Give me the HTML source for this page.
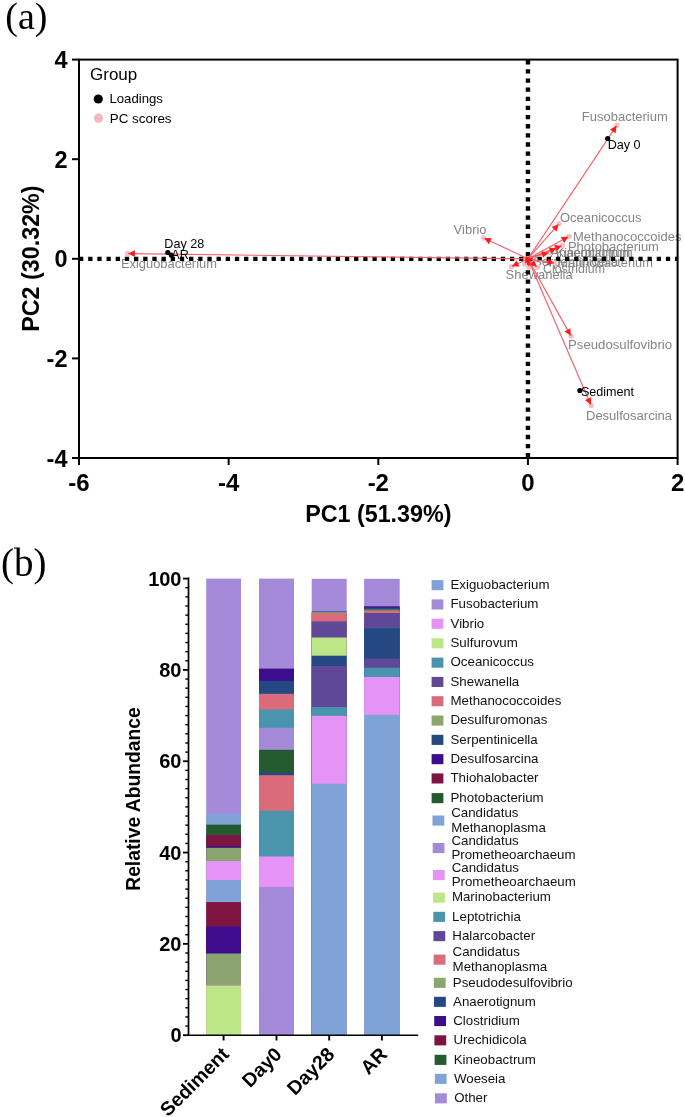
<!DOCTYPE html><html><head><meta charset="utf-8"><style>html,body{margin:0;padding:0;background:#fff;overflow:hidden}svg{display:block;will-change:transform}text{font-family:"Liberation Sans", sans-serif}</style></head><body>
<svg width="685" height="1117" viewBox="0 0 685 1117">
<rect width="685" height="1117" fill="#fff"/>
<text x="5.3" y="29.3" style="font-family:'Liberation Serif', serif" font-size="38" fill="#000">(a)</text>
<line x1="72" y1="59.60" x2="79.0" y2="59.60" stroke="#000" stroke-width="2"/>
<text x="67.5" y="68.10" text-anchor="end" font-weight="bold" font-size="23.5">4</text>
<line x1="72" y1="159.20" x2="79.0" y2="159.20" stroke="#000" stroke-width="2"/>
<text x="67.5" y="167.70" text-anchor="end" font-weight="bold" font-size="23.5">2</text>
<line x1="72" y1="258.80" x2="79.0" y2="258.80" stroke="#000" stroke-width="2"/>
<text x="67.5" y="267.30" text-anchor="end" font-weight="bold" font-size="23.5">0</text>
<line x1="72" y1="358.40" x2="79.0" y2="358.40" stroke="#000" stroke-width="2"/>
<text x="67.5" y="366.90" text-anchor="end" font-weight="bold" font-size="23.5">-2</text>
<line x1="72" y1="458.00" x2="79.0" y2="458.00" stroke="#000" stroke-width="2"/>
<text x="67.5" y="466.50" text-anchor="end" font-weight="bold" font-size="23.5">-4</text>
<line x1="79.00" y1="458.0" x2="79.00" y2="465" stroke="#000" stroke-width="2"/>
<text x="79.00" y="490.5" text-anchor="middle" font-weight="bold" font-size="24">-6</text>
<line x1="228.65" y1="458.0" x2="228.65" y2="465" stroke="#000" stroke-width="2"/>
<text x="228.65" y="490.5" text-anchor="middle" font-weight="bold" font-size="24">-4</text>
<line x1="378.30" y1="458.0" x2="378.30" y2="465" stroke="#000" stroke-width="2"/>
<text x="378.30" y="490.5" text-anchor="middle" font-weight="bold" font-size="24">-2</text>
<line x1="527.95" y1="458.0" x2="527.95" y2="465" stroke="#000" stroke-width="2"/>
<text x="527.95" y="490.5" text-anchor="middle" font-weight="bold" font-size="24">0</text>
<line x1="677.60" y1="458.0" x2="677.60" y2="465" stroke="#000" stroke-width="2"/>
<text x="677.60" y="490.5" text-anchor="middle" font-weight="bold" font-size="24">2</text>
<text x="378.3" y="521.5" text-anchor="middle" font-weight="bold" font-size="23.3">PC1 (51.39%)</text>
<text transform="translate(38.5,258.6) rotate(-90)" text-anchor="middle" font-weight="bold" font-size="23.3">PC2 (30.32%)</text>
<text x="90" y="79.6" font-size="17">Group</text>
<circle cx="98.3" cy="99" r="4.6" fill="#000"/>
<text x="109.4" y="103" font-size="13.2">Loadings</text>
<circle cx="98.5" cy="118.2" r="4.6" fill="#f2b6bf"/>
<text x="109.8" y="122.7" font-size="13.4">PC scores</text>
<text x="581.8" y="120.9" font-size="13.0" fill="#858585">Fusobacterium</text>
<text x="559.9" y="221.9" font-size="13.0" fill="#858585">Oceanicoccus</text>
<text x="573" y="240.9" font-size="13.0" fill="#858585">Methanococcoides</text>
<text x="453.6" y="233.6" font-size="13.0" fill="#858585">Vibrio</text>
<text x="567.9" y="251.0" font-size="13.0" fill="#858585">Photobacterium</text>
<text x="550.5" y="257.0" font-size="12.8" fill="#858585">Anaerotignum</text>
<text x="556" y="256.5" font-size="12.4" fill="#858585">Kineobactrum</text>
<text x="533" y="266.3" font-size="13.0" fill="#858585">Serpentinicella</text>
<text x="557.5" y="266.6" font-size="12.8" fill="#858585">Marinobacterium</text>
<text x="543.0" y="273.4" font-size="12.4" fill="#858585">Clostridium</text>
<text x="505.5" y="279.2" font-size="13.0" fill="#858585">Shewanella</text>
<text x="120.9" y="267.9" font-size="12.9" fill="#858585">Exiguobacterium</text>
<text x="568.0" y="349" font-size="13.2" fill="#858585">Pseudosulfovibrio</text>
<text x="586" y="419.5" font-size="13.0" fill="#858585">Desulfosarcina</text>
<line x1="79.0" y1="258.80" x2="677.6" y2="258.80" stroke="#000" stroke-width="4.3" stroke-dasharray="4.3 4.87"/>
<line x1="527.95" y1="59.6" x2="527.95" y2="458.0" stroke="#000" stroke-width="4.4" stroke-dasharray="4.3 4.84" stroke-dashoffset="-0.5"/>
<rect x="79.0" y="59.6" width="598.6" height="398.4" fill="none" stroke="#000" stroke-width="2"/>
<circle cx="127.5" cy="253.6" r="2.7" fill="#f7c0c7"/>
<circle cx="483.6" cy="237.9" r="2.7" fill="#f7c0c7"/>
<circle cx="616.9" cy="125.2" r="2.7" fill="#f7c0c7"/>
<circle cx="559.1" cy="223.6" r="2.7" fill="#f7c0c7"/>
<circle cx="569.0" cy="236.4" r="2.7" fill="#f7c0c7"/>
<circle cx="562.3" cy="245.5" r="2.7" fill="#f7c0c7"/>
<circle cx="557" cy="248.1" r="2.7" fill="#f7c0c7"/>
<circle cx="549.2" cy="252.5" r="2.7" fill="#f7c0c7"/>
<circle cx="511.4" cy="266.7" r="2.7" fill="#f7c0c7"/>
<circle cx="537.3" cy="267.4" r="2.7" fill="#f7c0c7"/>
<circle cx="524.6" cy="263.9" r="2.7" fill="#f7c0c7"/>
<circle cx="529.0" cy="267.0" r="2.7" fill="#f7c0c7"/>
<circle cx="554.9" cy="263" r="2.7" fill="#f7c0c7"/>
<circle cx="571.1" cy="336.3" r="2.7" fill="#f7c0c7"/>
<circle cx="591.1" cy="405.4" r="2.7" fill="#f7c0c7"/>
<line x1="527.95" y1="258.80" x2="128.30" y2="253.61" stroke="#f4606a" stroke-width="1.15"/>
<line x1="527.95" y1="258.80" x2="484.32" y2="238.24" stroke="#f4606a" stroke-width="1.15"/>
<line x1="527.95" y1="258.80" x2="616.46" y2="125.87" stroke="#f4606a" stroke-width="1.15"/>
<line x1="527.95" y1="258.80" x2="558.57" y2="224.20" stroke="#f4606a" stroke-width="1.15"/>
<line x1="527.95" y1="258.80" x2="568.30" y2="236.78" stroke="#f4606a" stroke-width="1.15"/>
<line x1="527.95" y1="258.80" x2="561.55" y2="245.79" stroke="#f4606a" stroke-width="1.15"/>
<line x1="527.95" y1="258.80" x2="556.25" y2="248.38" stroke="#f4606a" stroke-width="1.15"/>
<line x1="527.95" y1="258.80" x2="548.43" y2="252.73" stroke="#f4606a" stroke-width="1.15"/>
<line x1="527.95" y1="258.80" x2="512.12" y2="266.36" stroke="#f4606a" stroke-width="1.15"/>
<line x1="527.95" y1="258.80" x2="536.71" y2="266.86" stroke="#f4606a" stroke-width="1.15"/>
<line x1="527.95" y1="258.80" x2="525.04" y2="263.23" stroke="#f4606a" stroke-width="1.15"/>
<line x1="527.95" y1="258.80" x2="528.90" y2="266.21" stroke="#f4606a" stroke-width="1.15"/>
<line x1="527.95" y1="258.80" x2="554.11" y2="262.88" stroke="#f4606a" stroke-width="1.15"/>
<line x1="527.95" y1="258.80" x2="570.71" y2="335.60" stroke="#f4606a" stroke-width="1.15"/>
<line x1="527.95" y1="258.80" x2="590.78" y2="404.67" stroke="#f4606a" stroke-width="1.15"/>
<polygon points="128.30,253.61 134.94,250.30 134.86,257.10" fill="#ff1a1a"/>
<polygon points="484.32,238.24 491.74,237.98 488.84,244.13" fill="#ff1a1a"/>
<polygon points="616.46,125.87 615.63,133.24 609.97,129.48" fill="#ff1a1a"/>
<polygon points="558.57,224.20 556.74,231.39 551.65,226.89" fill="#ff1a1a"/>
<polygon points="568.30,236.78 564.13,242.93 560.88,236.96" fill="#ff1a1a"/>
<polygon points="561.55,245.79 556.63,251.34 554.17,245.00" fill="#ff1a1a"/>
<polygon points="556.25,248.38 551.23,253.85 548.88,247.47" fill="#ff1a1a"/>
<polygon points="548.43,252.73 543.07,257.86 541.14,251.34" fill="#ff1a1a"/>
<polygon points="512.12,266.36 516.61,260.44 519.54,266.58" fill="#ff1a1a"/>
<polygon points="536.71,266.86 529.55,264.89 534.16,259.89" fill="#ff1a1a"/>
<polygon points="525.04,263.23 525.82,255.85 531.50,259.58" fill="#ff1a1a"/>
<polygon points="528.90,266.21 524.69,260.09 531.43,259.23" fill="#ff1a1a"/>
<polygon points="554.11,262.88 547.06,265.22 548.11,258.50" fill="#ff1a1a"/>
<polygon points="570.71,335.60 564.53,331.49 570.47,328.18" fill="#ff1a1a"/>
<polygon points="590.78,404.67 585.05,399.95 591.30,397.26" fill="#ff1a1a"/>
<circle cx="607.7" cy="138.5" r="2.6" fill="#000"/>
<circle cx="167.8" cy="252.5" r="2.6" fill="#000"/>
<circle cx="171.3" cy="255.1" r="2.6" fill="#000"/>
<circle cx="579.9" cy="390.5" r="2.6" fill="#000"/>
<text x="607.7" y="148.7" font-size="12.6" fill="#000">Day 0</text>
<text x="164.3" y="247.8" font-size="12.6" fill="#000">Day 28</text>
<text x="171.3" y="258.6" font-size="12.6" fill="#000">AR</text>
<text x="580.9" y="395.6" font-size="12.6" fill="#000">Sediment</text>
<text x="1.0" y="575.8" style="font-family:'Liberation Serif', serif" font-size="39" fill="#000">(b)</text>
<rect x="206.2" y="578.6" width="34.80" height="456.60" fill="#a48ad9"/>
<rect x="206.2" y="814.2" width="34.80" height="221.00" fill="#7fa3d6"/>
<rect x="206.2" y="824.7" width="34.80" height="210.50" fill="#235a2e"/>
<rect x="206.2" y="835.2" width="34.80" height="200.00" fill="#7d1540"/>
<rect x="206.2" y="846.2" width="34.80" height="189.00" fill="#3c0d8c"/>
<rect x="206.2" y="847.8" width="34.80" height="187.40" fill="#8aa66e"/>
<rect x="206.2" y="861" width="34.80" height="174.20" fill="#e593f7"/>
<rect x="206.2" y="880" width="34.80" height="155.20" fill="#7fa3d6"/>
<rect x="206.2" y="902.1" width="34.80" height="133.10" fill="#7d1540"/>
<rect x="206.2" y="926.4" width="34.80" height="108.80" fill="#3c0d8c"/>
<rect x="206.2" y="953.5" width="34.80" height="81.70" fill="#8aa66e"/>
<rect x="206.2" y="984.5" width="34.80" height="50.70" fill="#b89088"/>
<rect x="206.2" y="985.7" width="34.80" height="49.50" fill="#bde688"/>
<rect x="259.0" y="578.6" width="35.00" height="456.60" fill="#a48ad9"/>
<rect x="259.0" y="668.6" width="35.00" height="366.60" fill="#3c0d8c"/>
<rect x="259.0" y="680.8" width="35.00" height="354.40" fill="#244882"/>
<rect x="259.0" y="693.8" width="35.00" height="341.40" fill="#d96b7a"/>
<rect x="259.0" y="709.5" width="35.00" height="325.70" fill="#4a94ae"/>
<rect x="259.0" y="727.8" width="35.00" height="307.40" fill="#a48ad9"/>
<rect x="259.0" y="749.8" width="35.00" height="285.40" fill="#235a2e"/>
<rect x="259.0" y="772.3" width="35.00" height="262.90" fill="#244882"/>
<rect x="259.0" y="775.2" width="35.00" height="260.00" fill="#d96b7a"/>
<rect x="259.0" y="810.8" width="35.00" height="224.40" fill="#4a94ae"/>
<rect x="259.0" y="856.5" width="35.00" height="178.70" fill="#e593f7"/>
<rect x="259.0" y="886.9" width="35.00" height="148.30" fill="#a48ad9"/>
<rect x="311.7" y="578.8" width="35.00" height="456.40" fill="#a48ad9"/>
<rect x="311.7" y="611.4" width="35.00" height="423.80" fill="#244882"/>
<rect x="311.7" y="612.2" width="35.00" height="423.00" fill="#8aa66e"/>
<rect x="311.7" y="613.2" width="35.00" height="422.00" fill="#d96b7a"/>
<rect x="311.7" y="621.4" width="35.00" height="413.80" fill="#5f4898"/>
<rect x="311.7" y="637.5" width="35.00" height="397.70" fill="#bde688"/>
<rect x="311.7" y="655.7" width="35.00" height="379.50" fill="#244882"/>
<rect x="311.7" y="665.9" width="35.00" height="369.30" fill="#5f4898"/>
<rect x="311.7" y="707.1" width="35.00" height="328.10" fill="#4a94ae"/>
<rect x="311.7" y="715.9" width="35.00" height="319.30" fill="#e593f7"/>
<rect x="311.7" y="783.8" width="35.00" height="251.40" fill="#7fa3d6"/>
<rect x="364.1" y="578.8" width="35.60" height="456.40" fill="#a48ad9"/>
<rect x="364.1" y="606.3" width="35.60" height="428.90" fill="#3c0d8c"/>
<rect x="364.1" y="607.5" width="35.60" height="427.70" fill="#244882"/>
<rect x="364.1" y="608.9" width="35.60" height="426.30" fill="#2f7a68"/>
<rect x="364.1" y="610.3" width="35.60" height="424.90" fill="#d96b7a"/>
<rect x="364.1" y="613" width="35.60" height="422.20" fill="#5f4898"/>
<rect x="364.1" y="627.6" width="35.60" height="407.60" fill="#3f6f8a"/>
<rect x="364.1" y="628.2" width="35.60" height="407.00" fill="#244882"/>
<rect x="364.1" y="658.6" width="35.60" height="376.60" fill="#5f4898"/>
<rect x="364.1" y="667.8" width="35.60" height="367.40" fill="#4a94ae"/>
<rect x="364.1" y="677" width="35.60" height="358.20" fill="#e593f7"/>
<rect x="364.1" y="714.8" width="35.60" height="320.40" fill="#7fa3d6"/>
<line x1="188.5" y1="577.6" x2="188.5" y2="1036" stroke="#000" stroke-width="1.7"/>
<line x1="187.5" y1="1035.3" x2="418.2" y2="1035.3" stroke="#000" stroke-width="1.6"/>
<line x1="183" y1="1035.20" x2="188.5" y2="1035.20" stroke="#000" stroke-width="1.8"/>
<text x="181.5" y="1042.40" text-anchor="end" font-weight="bold" font-size="20">0</text>
<line x1="185.3" y1="1026.07" x2="188.5" y2="1026.07" stroke="#000" stroke-width="1.4"/>
<line x1="185.3" y1="1016.94" x2="188.5" y2="1016.94" stroke="#000" stroke-width="1.4"/>
<line x1="185.3" y1="1007.80" x2="188.5" y2="1007.80" stroke="#000" stroke-width="1.4"/>
<line x1="185.3" y1="998.67" x2="188.5" y2="998.67" stroke="#000" stroke-width="1.4"/>
<line x1="185.3" y1="989.54" x2="188.5" y2="989.54" stroke="#000" stroke-width="1.4"/>
<line x1="185.3" y1="980.41" x2="188.5" y2="980.41" stroke="#000" stroke-width="1.4"/>
<line x1="185.3" y1="971.28" x2="188.5" y2="971.28" stroke="#000" stroke-width="1.4"/>
<line x1="185.3" y1="962.14" x2="188.5" y2="962.14" stroke="#000" stroke-width="1.4"/>
<line x1="185.3" y1="953.01" x2="188.5" y2="953.01" stroke="#000" stroke-width="1.4"/>
<line x1="183" y1="943.88" x2="188.5" y2="943.88" stroke="#000" stroke-width="1.8"/>
<text x="181.5" y="951.08" text-anchor="end" font-weight="bold" font-size="20">20</text>
<line x1="185.3" y1="934.75" x2="188.5" y2="934.75" stroke="#000" stroke-width="1.4"/>
<line x1="185.3" y1="925.62" x2="188.5" y2="925.62" stroke="#000" stroke-width="1.4"/>
<line x1="185.3" y1="916.48" x2="188.5" y2="916.48" stroke="#000" stroke-width="1.4"/>
<line x1="185.3" y1="907.35" x2="188.5" y2="907.35" stroke="#000" stroke-width="1.4"/>
<line x1="185.3" y1="898.22" x2="188.5" y2="898.22" stroke="#000" stroke-width="1.4"/>
<line x1="185.3" y1="889.09" x2="188.5" y2="889.09" stroke="#000" stroke-width="1.4"/>
<line x1="185.3" y1="879.96" x2="188.5" y2="879.96" stroke="#000" stroke-width="1.4"/>
<line x1="185.3" y1="870.82" x2="188.5" y2="870.82" stroke="#000" stroke-width="1.4"/>
<line x1="185.3" y1="861.69" x2="188.5" y2="861.69" stroke="#000" stroke-width="1.4"/>
<line x1="183" y1="852.56" x2="188.5" y2="852.56" stroke="#000" stroke-width="1.8"/>
<text x="181.5" y="859.76" text-anchor="end" font-weight="bold" font-size="20">40</text>
<line x1="185.3" y1="843.43" x2="188.5" y2="843.43" stroke="#000" stroke-width="1.4"/>
<line x1="185.3" y1="834.30" x2="188.5" y2="834.30" stroke="#000" stroke-width="1.4"/>
<line x1="185.3" y1="825.16" x2="188.5" y2="825.16" stroke="#000" stroke-width="1.4"/>
<line x1="185.3" y1="816.03" x2="188.5" y2="816.03" stroke="#000" stroke-width="1.4"/>
<line x1="185.3" y1="806.90" x2="188.5" y2="806.90" stroke="#000" stroke-width="1.4"/>
<line x1="185.3" y1="797.77" x2="188.5" y2="797.77" stroke="#000" stroke-width="1.4"/>
<line x1="185.3" y1="788.64" x2="188.5" y2="788.64" stroke="#000" stroke-width="1.4"/>
<line x1="185.3" y1="779.50" x2="188.5" y2="779.50" stroke="#000" stroke-width="1.4"/>
<line x1="185.3" y1="770.37" x2="188.5" y2="770.37" stroke="#000" stroke-width="1.4"/>
<line x1="183" y1="761.24" x2="188.5" y2="761.24" stroke="#000" stroke-width="1.8"/>
<text x="181.5" y="768.44" text-anchor="end" font-weight="bold" font-size="20">60</text>
<line x1="185.3" y1="752.11" x2="188.5" y2="752.11" stroke="#000" stroke-width="1.4"/>
<line x1="185.3" y1="742.98" x2="188.5" y2="742.98" stroke="#000" stroke-width="1.4"/>
<line x1="185.3" y1="733.84" x2="188.5" y2="733.84" stroke="#000" stroke-width="1.4"/>
<line x1="185.3" y1="724.71" x2="188.5" y2="724.71" stroke="#000" stroke-width="1.4"/>
<line x1="185.3" y1="715.58" x2="188.5" y2="715.58" stroke="#000" stroke-width="1.4"/>
<line x1="185.3" y1="706.45" x2="188.5" y2="706.45" stroke="#000" stroke-width="1.4"/>
<line x1="185.3" y1="697.32" x2="188.5" y2="697.32" stroke="#000" stroke-width="1.4"/>
<line x1="185.3" y1="688.18" x2="188.5" y2="688.18" stroke="#000" stroke-width="1.4"/>
<line x1="185.3" y1="679.05" x2="188.5" y2="679.05" stroke="#000" stroke-width="1.4"/>
<line x1="183" y1="669.92" x2="188.5" y2="669.92" stroke="#000" stroke-width="1.8"/>
<text x="181.5" y="677.12" text-anchor="end" font-weight="bold" font-size="20">80</text>
<line x1="185.3" y1="660.79" x2="188.5" y2="660.79" stroke="#000" stroke-width="1.4"/>
<line x1="185.3" y1="651.66" x2="188.5" y2="651.66" stroke="#000" stroke-width="1.4"/>
<line x1="185.3" y1="642.52" x2="188.5" y2="642.52" stroke="#000" stroke-width="1.4"/>
<line x1="185.3" y1="633.39" x2="188.5" y2="633.39" stroke="#000" stroke-width="1.4"/>
<line x1="185.3" y1="624.26" x2="188.5" y2="624.26" stroke="#000" stroke-width="1.4"/>
<line x1="185.3" y1="615.13" x2="188.5" y2="615.13" stroke="#000" stroke-width="1.4"/>
<line x1="185.3" y1="606.00" x2="188.5" y2="606.00" stroke="#000" stroke-width="1.4"/>
<line x1="185.3" y1="596.86" x2="188.5" y2="596.86" stroke="#000" stroke-width="1.4"/>
<line x1="185.3" y1="587.73" x2="188.5" y2="587.73" stroke="#000" stroke-width="1.4"/>
<line x1="183" y1="578.60" x2="188.5" y2="578.60" stroke="#000" stroke-width="1.8"/>
<text x="181.5" y="585.80" text-anchor="end" font-weight="bold" font-size="20">100</text>
<line x1="223.60" y1="1035" x2="223.60" y2="1040.5" stroke="#000" stroke-width="1.9"/>
<line x1="276.50" y1="1035" x2="276.50" y2="1040.5" stroke="#000" stroke-width="1.9"/>
<line x1="329.20" y1="1035" x2="329.20" y2="1040.5" stroke="#000" stroke-width="1.9"/>
<line x1="381.90" y1="1035" x2="381.90" y2="1040.5" stroke="#000" stroke-width="1.9"/>
<text transform="translate(140,799) rotate(-90)" text-anchor="middle" font-weight="bold" font-size="19.3">Relative Abundance</text>
<text transform="translate(230.10,1055.5) rotate(-45)" text-anchor="end" font-weight="bold" font-size="19.5">Sediment</text>
<text transform="translate(283.00,1055.5) rotate(-45)" text-anchor="end" font-weight="bold" font-size="19.5">Day0</text>
<text transform="translate(335.70,1055.5) rotate(-45)" text-anchor="end" font-weight="bold" font-size="19.5">Day28</text>
<text transform="translate(388.40,1055.5) rotate(-45)" text-anchor="end" font-weight="bold" font-size="19.5">AR</text>
<rect x="431.60" y="580.10" width="11.8" height="10.1" fill="#7fa3d6"/>
<text x="450.50" y="588.90" font-size="13.3" fill="#111">Exiguobacterium</text>
<rect x="431.60" y="599.40" width="11.8" height="10.1" fill="#a48ad9"/>
<text x="450.50" y="608.20" font-size="13.3" fill="#111">Fusobacterium</text>
<rect x="431.60" y="618.70" width="11.8" height="10.1" fill="#e593f7"/>
<text x="450.50" y="627.50" font-size="13.3" fill="#111">Vibrio</text>
<rect x="431.60" y="638.30" width="11.8" height="10.1" fill="#bde688"/>
<text x="450.50" y="647.10" font-size="13.3" fill="#111">Sulfurovum</text>
<rect x="431.60" y="657.60" width="11.8" height="10.1" fill="#4a94ae"/>
<text x="450.50" y="666.40" font-size="13.3" fill="#111">Oceanicoccus</text>
<rect x="431.60" y="676.90" width="11.8" height="10.1" fill="#5f4898"/>
<text x="450.50" y="685.70" font-size="13.3" fill="#111">Shewanella</text>
<rect x="431.60" y="696.20" width="11.8" height="10.1" fill="#d96b7a"/>
<text x="450.50" y="705.00" font-size="13.3" fill="#111">Methanococcoides</text>
<rect x="431.60" y="715.50" width="11.8" height="10.1" fill="#8aa66e"/>
<text x="450.50" y="724.30" font-size="13.3" fill="#111">Desulfuromonas</text>
<rect x="431.60" y="734.80" width="11.8" height="10.1" fill="#244882"/>
<text x="450.50" y="743.60" font-size="13.3" fill="#111">Serpentinicella</text>
<rect x="431.60" y="754.10" width="11.8" height="10.1" fill="#3c0d8c"/>
<text x="450.50" y="762.90" font-size="13.3" fill="#111">Desulfosarcina</text>
<rect x="431.60" y="773.40" width="11.8" height="10.1" fill="#7d1540"/>
<text x="450.50" y="782.20" font-size="13.3" fill="#111">Thiohalobacter</text>
<rect x="431.60" y="793.10" width="11.8" height="10.1" fill="#235a2e"/>
<text x="450.50" y="801.90" font-size="13.3" fill="#111">Photobacterium</text>
<rect x="432.50" y="815.50" width="11.8" height="10.1" fill="#7fa3d6"/>
<text x="451.20" y="817.10" font-size="13.3" fill="#111">Candidatus</text>
<text x="451.20" y="831.70" font-size="13.3" fill="#111">Methanoplasma</text>
<rect x="432.69" y="843.00" width="11.8" height="10.1" fill="#a48ad9"/>
<text x="451.43" y="844.60" font-size="13.3" fill="#111">Candidatus</text>
<text x="451.43" y="859.20" font-size="13.3" fill="#111">Prometheoarchaeum</text>
<rect x="432.88" y="870.00" width="11.8" height="10.1" fill="#e593f7"/>
<text x="451.66" y="871.60" font-size="13.3" fill="#111">Candidatus</text>
<text x="451.66" y="886.20" font-size="13.3" fill="#111">Prometheoarchaeum</text>
<rect x="433.08" y="892.60" width="11.8" height="10.1" fill="#bde688"/>
<text x="451.89" y="901.40" font-size="13.3" fill="#111">Marinobacterium</text>
<rect x="433.27" y="911.80" width="11.8" height="10.1" fill="#4a94ae"/>
<text x="452.12" y="920.60" font-size="13.3" fill="#111">Leptotrichia</text>
<rect x="433.46" y="931.10" width="11.8" height="10.1" fill="#5f4898"/>
<text x="452.35" y="939.90" font-size="13.3" fill="#111">Halarcobacter</text>
<rect x="433.65" y="954.60" width="11.8" height="10.1" fill="#d96b7a"/>
<text x="452.58" y="956.20" font-size="13.3" fill="#111">Candidatus</text>
<text x="452.58" y="970.80" font-size="13.3" fill="#111">Methanoplasma</text>
<rect x="433.85" y="977.80" width="11.8" height="10.1" fill="#8aa66e"/>
<text x="452.82" y="986.60" font-size="13.3" fill="#111">Pseudodesulfovibrio</text>
<rect x="434.04" y="996.80" width="11.8" height="10.1" fill="#244882"/>
<text x="453.05" y="1005.60" font-size="13.3" fill="#111">Anaerotignum</text>
<rect x="434.23" y="1016.00" width="11.8" height="10.1" fill="#3c0d8c"/>
<text x="453.28" y="1024.80" font-size="13.3" fill="#111">Clostridium</text>
<rect x="434.42" y="1035.30" width="11.8" height="10.1" fill="#7d1540"/>
<text x="453.51" y="1044.10" font-size="13.3" fill="#111">Urechidicola</text>
<rect x="434.62" y="1054.80" width="11.8" height="10.1" fill="#235a2e"/>
<text x="453.74" y="1063.60" font-size="13.3" fill="#111">Kineobactrum</text>
<rect x="434.81" y="1073.80" width="11.8" height="10.1" fill="#7fa3d6"/>
<text x="453.97" y="1082.60" font-size="13.3" fill="#111">Woeseia</text>
<rect x="435.00" y="1093.30" width="11.8" height="10.1" fill="#a48ad9"/>
<text x="454.20" y="1102.10" font-size="13.3" fill="#111">Other</text>
</svg></body></html>
